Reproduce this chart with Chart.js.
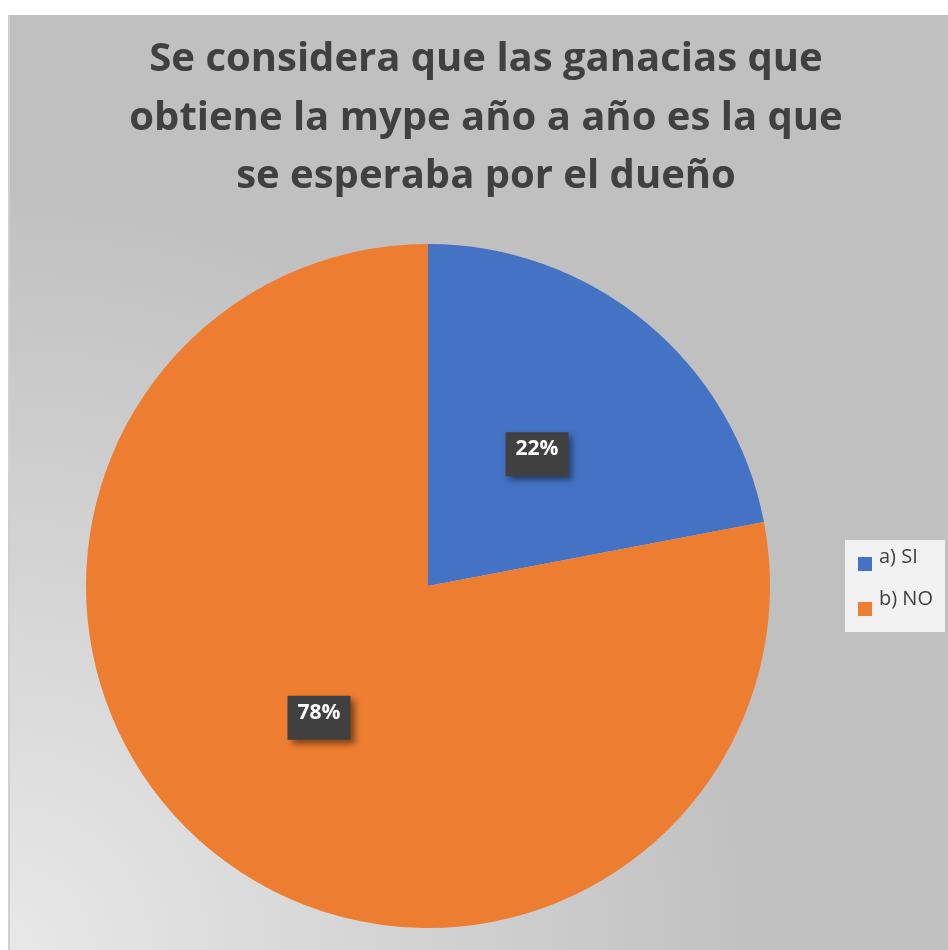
<!DOCTYPE html>
<html>
<head>
<meta charset="utf-8">
<script src="https://cdn.jsdelivr.net/npm/chart.js@4"></script>
<style>
  html, body { margin: 0; padding: 0; background: #fff; }
  #wrap { position: absolute; left: 0; top: 0; width: 948px; height: 950px; }
</style>
</head>
<body>
<div id="wrap"><canvas id="pie-chart"></canvas></div>
<script>
const titleLines = ['Se considera que las ganacias que', 'obtiene la mype año a año es la que', 'se esperaba por el dueño'];
const categories = ['a) SI', 'b) NO'];
const percentages = [22, 78];
const sliceColors = ['#4472c4', '#ed7d31'];

// gray panel with a lighter corner at bottom-left
const panelBackground = {
    id: 'panelBackground',
    beforeDraw(chart) {
        const ctx = chart.ctx;
        ctx.save();
        ctx.fillStyle = '#ffffff';
        ctx.fillRect(0, 0, chart.width, chart.height);
        const g = ctx.createRadialGradient(8, 950, 0, 8, 950, 760);
        g.addColorStop(0, '#e8e8e8');
        g.addColorStop(1, '#c0c0c0');
        ctx.fillStyle = g;
        ctx.fillRect(8, 15, chart.width - 8, chart.height - 15);
        ctx.fillStyle = '#d0d0d0';
        ctx.fillRect(8, 15, 2, chart.height - 15);
        ctx.restore();
    }
};

// legend kept in its own layout box on the right, Excel style
const sideLegend = {
    id: 'sideLegend',
    beforeInit(chart) {
        const box = {
            position: 'right',
            weight: 1000,
            fullSize: false,
            options: {},
            isHorizontal() { return false; },
            update(maxWidth, maxHeight) {
                this.width = 116;
                this.height = maxHeight;
                return { width: this.width, height: this.height };
            },
            draw() {}
        };
        chart.sideLegendBox = box;
        Chart.layouts.addBox(chart, box);
    },
    afterDraw(chart) {
        const ctx = chart.ctx;
        const b = chart.sideLegendBox;
        const x0 = b.left + 13;
        const cy = (chart.chartArea.top + chart.chartArea.bottom) / 2;
        ctx.save();
        ctx.fillStyle = '#f2f2f2';
        ctx.fillRect(x0, cy - 46, 100, 92);
        ctx.font = '20px "Open Sans", sans-serif';
        ctx.textBaseline = 'alphabetic';
        ctx.textAlign = 'left';
        categories.forEach((c, i) => {
            const y = cy - 29 + i * 45;
            ctx.fillStyle = sliceColors[i];
            ctx.fillRect(x0 + 13, y, 14, 14);
            ctx.fillStyle = '#404040';
            ctx.fillText(c, x0 + 34, cy - 23 + i * 42);
        });
        ctx.restore();
    }
};

// dark boxed percentage labels at the middle of each slice
const sliceLabels = {
    id: 'sliceLabels',
    afterDatasetsDraw(chart) {
        const ctx = chart.ctx;
        const meta = chart.getDatasetMeta(0);
        ctx.save();
        meta.data.forEach((arc, i) => {
            const p = arc.tooltipPosition();
            const w = 63, h = 44;
            ctx.shadowColor = 'rgba(0,0,0,0.45)';
            ctx.shadowBlur = 6;
            ctx.shadowOffsetX = 4;
            ctx.shadowOffsetY = 4;
            ctx.fillStyle = '#404040';
            ctx.fillRect(p.x - w / 2, p.y - h / 2, w, h);
            ctx.shadowColor = 'transparent';
            ctx.fillStyle = '#ffffff';
            ctx.font = 'bold 21px "Open Sans", sans-serif';
            ctx.textAlign = 'center';
            ctx.textBaseline = 'middle';
            ctx.fillText(percentages[i] + '%', p.x, p.y - 5);
        });
        ctx.restore();
    }
};

document.addEventListener('DOMContentLoaded', () => {
    const ctx = document.getElementById('pie-chart').getContext('2d');

    new Chart(ctx, {
        type: 'pie',
        data: {
            labels: categories,
            datasets: [{
                data: percentages,
                backgroundColor: sliceColors,
                borderWidth: 0
            }]
        },
        options: {
            responsive: true,
            maintainAspectRatio: false,
            animation: false,
            layout: { padding: { left: 24, right: 0, top: 22, bottom: 22 } },
            plugins: {
                title: {
                    display: true,
                    text: titleLines,
                    color: '#404040',
                    font: { family: '"Open Sans", sans-serif', size: 40, weight: 'bold', lineHeight: 1.47 },
                    padding: { top: 8, bottom: 37.6 }
                },
                legend: { display: false },
                tooltip: { enabled: false }
            }
        },
        plugins: [panelBackground, sideLegend, sliceLabels]
    });
});
</script>
</body>
</html>
